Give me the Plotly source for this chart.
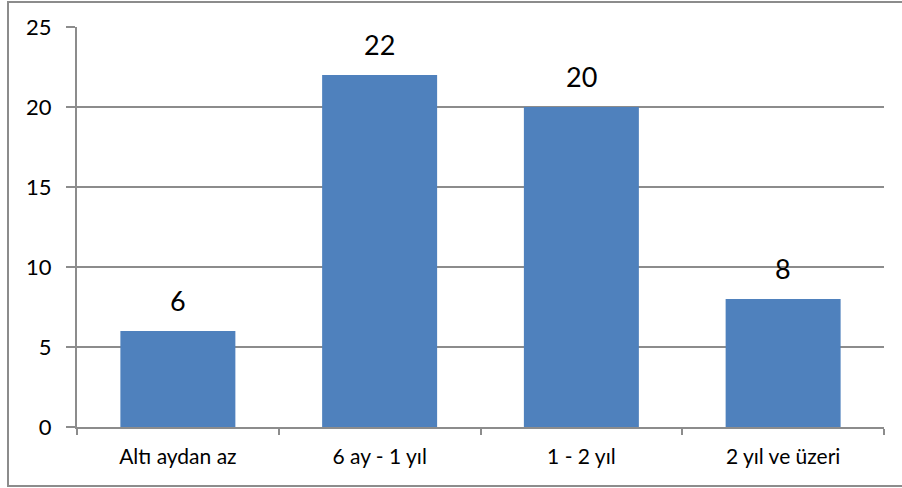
import plotly.graph_objects as go

# categories and counts
categories = ["Altı aydan az", "6 ay - 1 yıl", "1 - 2 yıl", "2 yıl ve üzeri"]
values = [6, 22, 20, 8]
y_ticks = [0, 5, 10, 15, 20, 25]

FONT = "Lato"
GRID = "#8c8c8c"

fig = go.Figure(go.Bar(
    x=categories, y=values,
    marker=dict(color="#4f81bd", line=dict(width=0)),
    width=0.57,
))

# value labels above bars
for c, v in zip(categories, values):
    fig.add_annotation(x=c, y=v, text=str(v), showarrow=False,
                       yanchor="bottom", yshift=12,
                       font=dict(family=FONT, size=27, color="black"))

fig.update_layout(
    width=902, height=488,
    margin=dict(l=77, r=18, t=27, b=61),
    paper_bgcolor="white", plot_bgcolor="white",
    showlegend=False,
    font=dict(family=FONT, color="black"),
)
fig.update_yaxes(
    range=[0, 25], tickvals=y_ticks,
    showgrid=True, gridcolor=GRID, gridwidth=2,
    showline=True, linecolor=GRID, linewidth=2,
    ticks="outside", ticklen=9, tickcolor=GRID, tickwidth=2,
    ticklabelstandoff=10,
    tickfont=dict(family=FONT, size=22), zeroline=False,
)
fig.update_xaxes(
    showline=True, linecolor=GRID, linewidth=2,
    ticks="outside", tickson="boundaries", ticklen=6, tickcolor=GRID, tickwidth=2,
    tickfont=dict(family=FONT, size=21), ticklabelstandoff=10,
)

# outer chart border
fig.add_shape(type="rect", xref="paper", yref="paper",
              x0=-0.0855, x1=1.03, y0=-0.1475, y1=1.0625,
              line=dict(color=GRID, width=2), layer="below")

# drop the default page margin so the chart sits at the window origin
fig.write_html("out.html", config={"displayModeBar": False},
               post_script="document.body.style.margin='0';")
